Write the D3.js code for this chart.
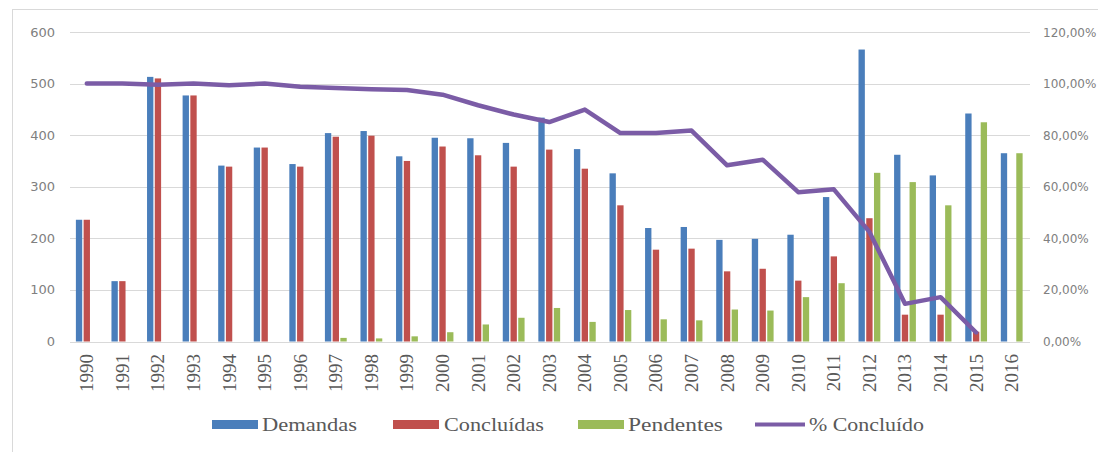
<!DOCTYPE html>
<html>
<head>
<meta charset="utf-8">
<script src="https://cdn.jsdelivr.net/npm/d3@7"></script>
<style>
  body { margin: 0; background: #fff; }
  svg { display: block; }
</style>
</head>
<body>
<div id="container"></div>
<script>
const width = 1098;
const height = 452;

const years = d3.range(1990, 2017).map(String);
const demandas = [236, 117, 513, 477, 341, 376, 344, 404, 408, 359, 395, 394, 385, 434, 373, 326, 220, 222, 197, 199, 207, 280, 566, 362, 322, 442, 365];
const concluidas = [236, 117, 510, 477, 339, 376, 339, 397, 399, 350, 378, 361, 339, 372, 335, 264, 178, 180, 136, 141, 118, 165, 239, 52, 52, 19, 0];
const pendentes = [0, 0, 0, 0, 0, 0, 0, 7, 6, 10, 18, 33, 46, 65, 38, 61, 43, 41, 62, 60, 86, 113, 327, 309, 264, 425, 365];
// % Concluído, 1990-2015 (no point for 2016)
const pctConcluido = [1.00, 1.00, 0.995, 1.00, 0.994, 1.00, 0.988, 0.983, 0.978, 0.975, 0.957, 0.916, 0.880, 0.851, 0.899, 0.808, 0.808, 0.818, 0.683, 0.705, 0.579, 0.590, 0.425, 0.146, 0.172, 0.035];
const leftTicks = [0, 100, 200, 300, 400, 500, 600];
const rightTicks = [0, 0.2, 0.4, 0.6, 0.8, 1.0, 1.2];

const seriesNames = ["Demandas", "Concluídas", "Pendentes"];
const seriesValues = [demandas, concluidas, pendentes];
const color = d3.scaleOrdinal()
                .domain(seriesNames)
                .range(["#4a7ebb", "#c0504d", "#9bbb59"]);
const lineColor = "#7b5ca6";
const grey = "#d9d9d9";

const svg = d3.select("#container")
              .append("svg")
              .attr("width", width)
              .attr("height", height);

// outer chart border (cut off at right and bottom)
svg.append("rect")
   .attr("x", 12.5)
   .attr("y", 9.5)
   .attr("width", width + 20)
   .attr("height", height + 20)
   .attr("fill", "none")
   .attr("stroke", grey);

const x = d3.scaleBand()
            .domain(years)
            .range([69, 1029.5])
            .padding(0);
const xs = d3.scaleBand()
             .domain(seriesNames)
             .range([-10.9, 10.9])
             .paddingInner(0.18);
const y = d3.scaleLinear().domain([0, 600]).range([341.5, 32]);
const yp = d3.scaleLinear().domain([0, 1.2]).range([341.5, 32]);

// gridlines
svg.append("g")
   .selectAll("line")
   .data(leftTicks)
   .enter()
   .append("line")
   .attr("x1", 70)
   .attr("x2", 1030)
   .attr("y1", d => Math.round(y(d)) + 0.5)
   .attr("y2", d => Math.round(y(d)) + 0.5)
   .attr("stroke", grey)
   .attr("stroke-width", 1.2);

// left axis labels
svg.append("g")
   .selectAll("text")
   .data(leftTicks)
   .enter()
   .append("text")
   .attr("x", 55)
   .attr("y", d => y(d) + 4.5)
   .attr("text-anchor", "end")
   .attr("font-family", "DejaVu Sans, sans-serif")
   .attr("font-size", 13)
   .attr("fill", "#808080")
   .text(d => d);

// right axis labels
const fmtPct = d => d3.format(".2f")(d * 100).replace(".", ",") + "%";
svg.append("g")
   .selectAll("text")
   .data(rightTicks)
   .enter()
   .append("text")
   .attr("x", 1043)
   .attr("y", d => yp(d) + 4.5)
   .attr("font-family", "DejaVu Sans, sans-serif")
   .attr("font-size", 12)
   .attr("fill", "#808080")
   .text(fmtPct);

// bars
const groups = svg.append("g")
                  .selectAll("g")
                  .data(years)
                  .enter()
                  .append("g")
                  .attr("transform", d => "translate(" + (x(d) + x.bandwidth() / 2) + ",0)");
groups.selectAll("rect")
      .data((d, i) => seriesNames.map((s, k) => ({ series: s, value: seriesValues[k][i] })))
      .enter()
      .append("rect")
      .attr("x", d => xs(d.series))
      .attr("width", xs.bandwidth())
      .attr("y", d => y(d.value))
      .attr("height", d => y(0) - y(d.value))
      .attr("fill", d => color(d.series));

// x labels, rotated
svg.append("g")
   .selectAll("text")
   .data(years)
   .enter()
   .append("text")
   .attr("transform", d => "translate(" + (x(d) + x.bandwidth() / 2 + 6.5) + ",354) rotate(-90)")
   .attr("text-anchor", "end")
   .attr("font-family", "Liberation Serif, serif")
   .attr("font-size", 19)
   .attr("fill", "#595959")
   .text(d => d);

// % Concluído line
const line = d3.line()
               .x((d, i) => x(years[i]) + x.bandwidth() / 2)
               .y(d => yp(d));
svg.append("path")
   .datum(pctConcluido)
   .attr("d", line)
   .attr("fill", "none")
   .attr("stroke", lineColor)
   .attr("stroke-width", 4.5)
   .attr("stroke-linejoin", "round")
   .attr("stroke-linecap", "round");

// legend
const legendItems = [
  { name: "Demandas", kind: "bar", sx: 212, tx: 262, tw: 95 },
  { name: "Concluídas", kind: "bar", sx: 393, tx: 444, tw: 100 },
  { name: "Pendentes", kind: "bar", sx: 578, tx: 628, tw: 95 },
  { name: "% Concluído", kind: "line", sx: 755, tx: 809, tw: 115 }
];
const legend = svg.append("g");
legend.selectAll("rect")
      .data(legendItems.filter(d => d.kind === "bar"))
      .enter()
      .append("rect")
      .attr("x", d => d.sx)
      .attr("y", 420)
      .attr("width", 46)
      .attr("height", 9)
      .attr("fill", d => color(d.name));
legend.selectAll("line")
      .data(legendItems.filter(d => d.kind === "line"))
      .enter()
      .append("line")
      .attr("x1", d => d.sx)
      .attr("x2", d => d.sx + 50)
      .attr("y1", 424.5)
      .attr("y2", 424.5)
      .attr("stroke", lineColor)
      .attr("stroke-width", 4);
legend.selectAll("text")
      .data(legendItems)
      .enter()
      .append("text")
      .attr("x", d => d.tx)
      .attr("y", 431)
      .attr("font-family", "Liberation Serif, serif")
      .attr("font-size", 19)
      .attr("fill", "#595959")
      .attr("textLength", d => d.tw)
      .attr("lengthAdjust", "spacingAndGlyphs")
      .text(d => d.name);
</script>
</body>
</html>
